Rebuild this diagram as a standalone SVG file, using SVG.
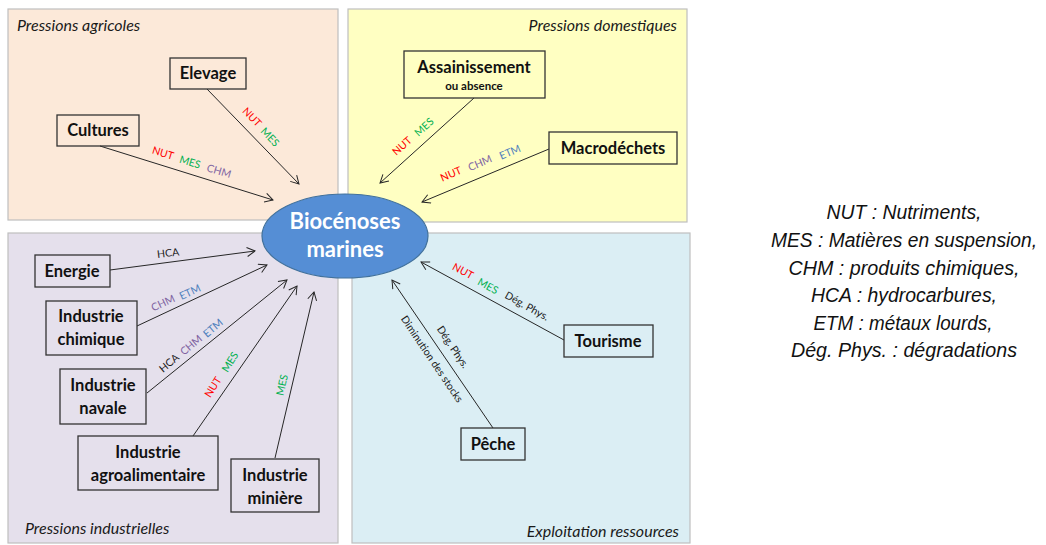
<svg xmlns="http://www.w3.org/2000/svg" width="1046" height="545" viewBox="0 0 1046 545">
<style>
.q{stroke:#bfbfbf;stroke-width:1.2}
.ql{font-family:Lato,"Liberation Sans",sans-serif;font-style:italic;font-size:16px;fill:#1a1a1a}
.box{fill:none;stroke:#333;stroke-width:1.3}
.nt{font-family:Lato,"Liberation Sans",sans-serif;font-weight:bold;font-size:16.5px;fill:#111;text-anchor:middle}
.sm{font-family:Lato,"Liberation Sans",sans-serif;font-size:10.5px;text-anchor:middle}
.c{stroke:#262626;stroke-width:1;fill:none;marker-end:url(#ah)}
.r{fill:#ff0000}.g{fill:#00b050}.p{fill:#8064a2}.b{fill:#4f81bd}.k{fill:#1a1a1a}
.lg{font-family:"Liberation Sans",Arial,sans-serif;font-style:italic;font-size:20px;fill:#111;text-anchor:middle}
</style>
<defs>
<marker id="ah" markerWidth="12" markerHeight="12" refX="9" refY="5" orient="auto" markerUnits="userSpaceOnUse">
<path d="M1,0.5 L9,5 L1,9.5" fill="none" stroke="#262626" stroke-width="1"/>
</marker>
</defs>
<rect width="1046" height="545" fill="#fff"/>
<g id="quadrants">
<rect class="q" x="8" y="9" width="330" height="211" fill="#fce9d9"/>
<rect class="q" x="348" y="9" width="339" height="213" fill="#ffffc2"/>
<rect class="q" x="8" y="233" width="330" height="310" fill="#e5e0ec"/>
<rect class="q" x="352" y="233" width="338" height="310" fill="#dbeef4"/>
<text class="ql" x="17" y="31">Pressions agricoles</text>
<text class="ql" x="677" y="31" text-anchor="end">Pressions domestiques</text>
<text class="ql" x="25" y="534">Pressions industrielles</text>
<text class="ql" x="679" y="537" text-anchor="end">Exploitation ressources</text>
</g>
<g id="connectors">
<line class="c" x1="207" y1="89" x2="299" y2="184"/>
<line class="c" x1="100" y1="146" x2="273" y2="200"/>
<line class="c" x1="474" y1="98" x2="380" y2="183"/>
<line class="c" x1="549" y1="149" x2="422" y2="202"/>
<line class="c" x1="110" y1="270" x2="255" y2="251"/>
<line class="c" x1="137" y1="326" x2="267" y2="265"/>
<line class="c" x1="147" y1="393" x2="287" y2="280"/>
<line class="c" x1="193" y1="436" x2="297" y2="286"/>
<line class="c" x1="275" y1="458" x2="314" y2="292"/>
<line class="c" x1="564" y1="340" x2="421" y2="262"/>
<line class="c" x1="493" y1="428" x2="392" y2="280"/>
<g id="labels">
<text class="sm r" transform="translate(252,117) rotate(46)" dy="0.35em">NUT</text>
<text class="sm g" transform="translate(270,137) rotate(46)" dy="0.35em">MES</text>
<text class="sm r" transform="translate(163,153) rotate(17)" dy="0.35em">NUT</text>
<text class="sm g" transform="translate(190,162) rotate(17)" dy="0.35em">MES</text>
<text class="sm p" transform="translate(219,171) rotate(17)" dy="0.35em">CHM</text>
<text class="sm r" transform="translate(402,146) rotate(-42)" dy="0.35em">NUT</text>
<text class="sm g" transform="translate(424,127) rotate(-42)" dy="0.35em">MES</text>
<text class="sm r" transform="translate(451,174) rotate(-23)" dy="0.35em">NUT</text>
<text class="sm p" transform="translate(480,163) rotate(-23)" dy="0.35em">CHM</text>
<text class="sm b" transform="translate(510,152) rotate(-23)" dy="0.35em">ETM</text>
<text class="sm k" transform="translate(168,253) rotate(-7)" dy="0.35em">HCA</text>
<text class="sm p" transform="translate(163,303) rotate(-25)" dy="0.35em">CHM</text>
<text class="sm b" transform="translate(190,292) rotate(-25)" dy="0.35em">ETM</text>
<text class="sm k" transform="translate(169,363) rotate(-40)" dy="0.35em">HCA</text>
<text class="sm p" transform="translate(191,345) rotate(-40)" dy="0.35em">CHM</text>
<text class="sm b" transform="translate(213,328) rotate(-40)" dy="0.35em">ETM</text>
<text class="sm r" transform="translate(213,387) rotate(-58)" dy="0.35em">NUT</text>
<text class="sm g" transform="translate(230,362) rotate(-58)" dy="0.35em">MES</text>
<text class="sm g" transform="translate(282,385) rotate(-77)" dy="0.35em">MES</text>
<text class="sm r" transform="translate(463,271) rotate(29)" dy="0.35em">NUT</text>
<text class="sm g" transform="translate(488,286) rotate(29)" dy="0.35em">MES</text>
<text class="sm k" transform="translate(527,306) rotate(29)" dy="0.35em">Dég. Phys.</text>
<text class="sm k" transform="translate(453,347) rotate(56)" dy="0.35em">Dég. Phys.</text>
<text class="sm k" transform="translate(432,359) rotate(56)" dy="0.35em">Diminution des stocks</text>
</g>
</g>
<g id="biocenoses">
<ellipse cx="345" cy="236" rx="83" ry="42" fill="#558ed5" stroke="#41719c" stroke-width="1.2"/>
<text x="345" y="229" font-family="Lato,'Liberation Sans',sans-serif" font-weight="bold" font-size="22" fill="#fff" text-anchor="middle">Biocénoses</text>
<text x="345" y="257" font-family="Lato,'Liberation Sans',sans-serif" font-weight="bold" font-size="22" fill="#fff" text-anchor="middle">marines</text>
</g>
<g id="elevage"><rect class="box" x="170" y="58" width="76" height="31"/><text class="nt" x="208" y="79">Elevage</text></g>
<g id="cultures"><rect class="box" x="57" y="115" width="82" height="31"/><text class="nt" x="98" y="136">Cultures</text></g>
<g id="assainissement"><rect class="box" x="404" y="51" width="141" height="47"/><text class="nt" x="474" y="73">Assainissement</text><text class="nt" x="474" y="90" style="font-size:11.5px">ou absence</text></g>
<g id="macrodechets"><rect class="box" x="549" y="132" width="128" height="32"/><text class="nt" x="613" y="154">Macrodéchets</text></g>
<g id="energie"><rect class="box" x="35" y="255" width="75" height="32"/><text class="nt" x="72" y="277">Energie</text></g>
<g id="chimique"><rect class="box" x="46" y="301" width="91" height="54"/><text class="nt" x="91" y="322">Industrie</text><text class="nt" x="91" y="345">chimique</text></g>
<g id="navale"><rect class="box" x="60" y="369" width="86" height="55"/><text class="nt" x="103" y="391">Industrie</text><text class="nt" x="103" y="414">navale</text></g>
<g id="agro"><rect class="box" x="78" y="436" width="140" height="54"/><text class="nt" x="148" y="458">Industrie</text><text class="nt" x="148" y="481">agroalimentaire</text></g>
<g id="miniere"><rect class="box" x="231" y="459" width="88" height="53"/><text class="nt" x="275" y="481">Industrie</text><text class="nt" x="275" y="504">minière</text></g>
<g id="tourisme"><rect class="box" x="564" y="325" width="89" height="32"/><text class="nt" x="608" y="347">Tourisme</text></g>
<g id="peche"><rect class="box" x="461" y="428" width="64" height="32"/><text class="nt" x="493" y="450">Pêche</text></g>
<g id="legend">
<text class="lg" x="904" y="219" textLength="155" lengthAdjust="spacingAndGlyphs">NUT : Nutriments,</text>
<text class="lg" x="904" y="247" textLength="266" lengthAdjust="spacingAndGlyphs">MES : Matières en suspension,</text>
<text class="lg" x="904" y="275" textLength="231" lengthAdjust="spacingAndGlyphs">CHM : produits chimiques,</text>
<text class="lg" x="904" y="302" textLength="186" lengthAdjust="spacingAndGlyphs">HCA : hydrocarbures,</text>
<text class="lg" x="903" y="330" textLength="179" lengthAdjust="spacingAndGlyphs">ETM : métaux lourds,</text>
<text class="lg" x="904" y="357" textLength="226" lengthAdjust="spacingAndGlyphs">Dég. Phys. : dégradations</text>
</g>
</svg>
